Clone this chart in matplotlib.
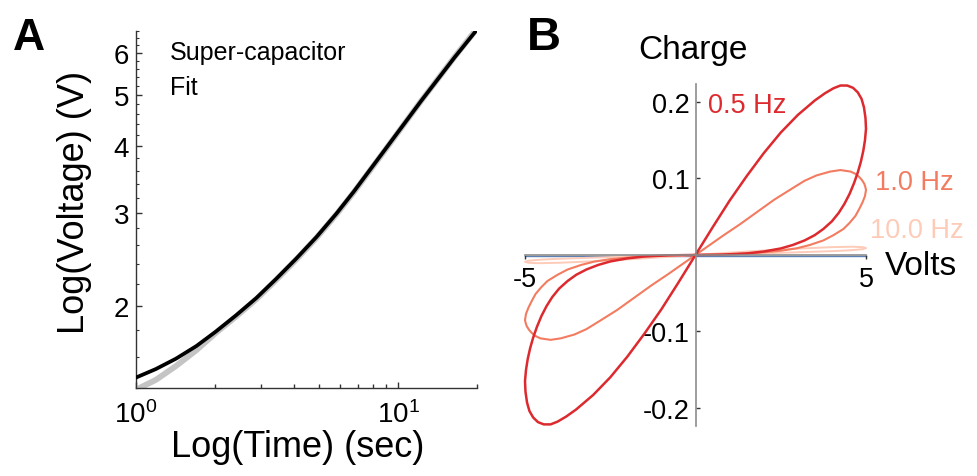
import numpy as np
import matplotlib
matplotlib.use("Agg")
import matplotlib.pyplot as plt
from matplotlib.ticker import FixedLocator, NullFormatter, FormatStrFormatter

plt.rcParams['font.family'] = ['Liberation Sans', 'DejaVu Sans']
plt.rcParams['mathtext.fontset'] = 'custom'
plt.rcParams['mathtext.rm'] = 'Liberation Sans'
plt.rcParams['mathtext.it'] = 'Liberation Sans:italic'
plt.rcParams['axes.unicode_minus'] = False

# ---- panel A: voltage vs time (log-log)
fit_t = [1.0, 1.19, 1.42, 1.70, 2.02, 2.41, 2.88, 3.43, 4.10, 4.89, 5.83, 6.79, 9.11, 12.2, 16.4, 19.8]
fit_v = [1.465, 1.52, 1.59, 1.68, 1.79, 1.92, 2.07, 2.25, 2.46, 2.70, 2.99, 3.29, 4.00, 4.86, 5.88, 6.60]
cap_t = [1.0, 1.19, 1.42, 1.70, 2.02, 2.41, 2.88, 3.43, 4.10, 4.89, 5.83, 6.79, 9.11, 12.2, 16.4, 19.8, 20.5]
cap_v = [1.39, 1.45, 1.54, 1.65, 1.78, 1.91, 2.06, 2.24, 2.45, 2.69, 2.98, 3.28, 3.99, 4.86, 5.89, 6.63, 6.77]
volt_ticks = [2, 3, 4, 5, 6]
volt_minor = np.arange(1.4, 6.61, 0.2)
time_minor = [2, 3, 4, 5, 6, 7, 8, 9, 20]

# ---- panel B: charge vs volts loops (upper-right lobe, then lower-left lobe)
v_05_up = [0, 0.5, 1.0, 1.5, 2.0, 2.5, 3.0, 3.5, 3.8, 4.05, 4.25, 4.45, 4.62, 4.76, 4.87, 4.94, 4.985, 5.0,
           4.97, 4.92, 4.85, 4.76, 4.65, 4.52, 4.37, 4.2, 4.0, 3.75, 3.5, 3.2, 2.85, 2.5, 2.0, 1.5, 0.8, 0]
q_05_up = [0, 0.036, 0.071, 0.103, 0.133, 0.160, 0.183, 0.202, 0.2115, 0.218, 0.2215, 0.2215, 0.2185, 0.2125,
           0.204, 0.193, 0.179, 0.165, 0.150, 0.136, 0.122, 0.108, 0.094, 0.080, 0.067, 0.055, 0.044, 0.034,
           0.026, 0.019, 0.013, 0.0085, 0.0045, 0.002, 0.0005, 0]
v_05_lo = [0, -0.5, -1.0, -1.5, -2.0, -2.5, -3.0, -3.5, -3.8, -4.05, -4.25, -4.45, -4.62, -4.76, -4.87, -4.94,
           -4.985, -5.0, -4.97, -4.92, -4.85, -4.76, -4.65, -4.52, -4.37, -4.2, -4.0, -3.75, -3.5, -3.2, -2.85,
           -2.5, -2.0, -1.5, -0.8, 0]
q_05_lo = [0, -0.036, -0.071, -0.103, -0.133, -0.160, -0.183, -0.202, -0.2115, -0.218, -0.2215, -0.2215,
           -0.2185, -0.2125, -0.204, -0.193, -0.179, -0.165, -0.150, -0.136, -0.122, -0.108, -0.094, -0.080,
           -0.067, -0.055, -0.044, -0.034, -0.026, -0.019, -0.013, -0.0085, -0.0045, -0.002, -0.0005, 0]

v_10_up = [0, 0.8, 1.3, 1.8, 2.3, 2.8, 3.2, 3.55, 3.95, 4.25, 4.55, 4.7, 4.8, 4.88, 4.95, 4.98, 5.0,
           4.97, 4.9, 4.8, 4.69, 4.52, 4.34, 4.05, 3.75, 3.35, 2.97, 2.5, 2.0, 1.4, 0.7, 0]
q_10_up = [0, 0.025, 0.040, 0.056, 0.072, 0.086, 0.097, 0.104, 0.109, 0.111, 0.109, 0.1058, 0.102, 0.098,
           0.093, 0.089, 0.085, 0.077, 0.069, 0.060, 0.051, 0.042, 0.034, 0.026, 0.019, 0.013, 0.0087,
           0.0055, 0.0035, 0.0015, 0.0004, 0]
v_10_lo = [0, -0.8, -1.3, -1.8, -2.3, -2.8, -3.2, -3.55, -3.95, -4.25, -4.55, -4.7, -4.8, -4.88, -4.95, -4.98,
           -5.0, -4.97, -4.9, -4.8, -4.69, -4.52, -4.34, -4.05, -3.75, -3.35, -2.97, -2.5, -2.0, -1.4, -0.7, 0]
q_10_lo = [0, -0.025, -0.040, -0.056, -0.072, -0.086, -0.097, -0.104, -0.109, -0.111, -0.109, -0.1058, -0.102,
           -0.098, -0.093, -0.089, -0.085, -0.077, -0.069, -0.060, -0.051, -0.042, -0.034, -0.026, -0.019,
           -0.013, -0.0087, -0.0055, -0.0035, -0.0015, -0.0004, 0]

v_100_up = [0, 1, 2, 3, 4, 4.6, 4.9, 5.0, 4.9, 4.5, 4.0, 3.0, 2.0, 1.0, 0]
q_100_up = [0, 0.003, 0.0058, 0.0083, 0.0102, 0.0108, 0.0102, 0.009, 0.0075, 0.006, 0.005, 0.0035, 0.0022, 0.001, 0]
v_100_lo = [0, -1, -2, -3, -4, -4.6, -4.9, -5.0, -4.9, -4.5, -4.0, -3.0, -2.0, -1.0, 0]
q_100_lo = [0, -0.003, -0.0058, -0.0083, -0.0102, -0.0108, -0.0102, -0.009, -0.0075, -0.006, -0.005, -0.0035,
            -0.0022, -0.001, 0]

v_flat = [-5, 5]
q_flat = [-0.0016, -0.0016]

freq_labels = ['0.5 Hz', '1.0 Hz', '10.0 Hz']
freq_colors = ['#dc2a2f', '#f27b60', '#fdcbb8']

W, H = 977, 477
fig = plt.figure(figsize=(W / 100, H / 100), dpi=100)

def fx(px):
    return px / W

def fy(py):
    return 1 - py / H

# ---------------- panel A
axA = fig.add_axes([fx(136), fy(389), (477 - 136) / W, (389 - 32) / H])
axA.plot(cap_t, cap_v, color='#c4c4c4', lw=4.2, solid_capstyle='butt', zorder=2)
axA.plot(fit_t, fit_v, color='black', lw=2.7, zorder=3)
axA.set_xscale('log')
axA.set_yscale('log')
axA.set_xlim(1, 20)
axA.set_ylim(1.4, 6.6)
axA.yaxis.set_major_locator(FixedLocator(volt_ticks))
axA.yaxis.set_major_formatter(FormatStrFormatter('%d'))
axA.yaxis.set_minor_locator(FixedLocator(volt_minor))
axA.yaxis.set_minor_formatter(NullFormatter())
axA.xaxis.set_minor_locator(FixedLocator(time_minor))
axA.xaxis.set_minor_formatter(NullFormatter())
for s in ['top', 'right']:
    axA.spines[s].set_visible(False)
for s in ['left', 'bottom']:
    axA.spines[s].set_color('#333333')
    axA.spines[s].set_linewidth(1.0)
axA.tick_params(which='both', direction='in', color='#333333', labelsize=20)
axA.tick_params(which='major', length=4, width=1)
axA.tick_params(axis='y', which='minor', length=2.2, width=0.8)
axA.tick_params(axis='x', which='minor', length=3, width=1)
axA.tick_params(axis='x', pad=9)
axA.tick_params(axis='y', pad=5)

fig.text(fx(170), fy(60), 'Super-capacitor', fontsize=18, va='baseline')
fig.text(fx(170), fy(95), 'Fit', fontsize=18, va='baseline')
fig.text(fx(298), fy(457), 'Log(Time) (sec)', fontsize=26, ha='center', va='baseline')
fig.text(fx(75), fy(202), 'Log(Voltage) (V)', fontsize=26, rotation=90,
         ha='center', va='center', rotation_mode='anchor')
fig.text(fx(13), fy(50), 'A', fontsize=32, weight='bold', va='baseline')

# ---------------- panel B
axB = fig.add_axes([fx(525), fy(427.3), (866 - 525) / W, (427.3 - 85) / H])
axB.plot(v_flat, q_flat, color='#5e81b5', lw=1.0, zorder=1, clip_on=False)
loops = [(v_100_up + v_100_lo, q_100_up + q_100_lo, 1.4),
         (v_10_up + v_10_lo, q_10_up + q_10_lo, 1.5),
         (v_05_up + v_05_lo, q_05_up + q_05_lo, 1.8)]
for (v, q, lw), col in zip(loops, freq_colors[::-1]):
    axB.plot(v, q, color=col, lw=lw, zorder=2, clip_on=False, solid_joinstyle='round')
axB.set_xlim(-5, 5)
axB.set_ylim(-0.224, 0.2235)
for s in ['top', 'right']:
    axB.spines[s].set_visible(False)
for s in ['left', 'bottom']:
    axB.spines[s].set_position('zero')
    axB.spines[s].set_color('#8c8c8c')
    axB.spines[s].set_linewidth(1.2)
    axB.spines[s].set_zorder(2.5)
axB.xaxis.set_major_locator(FixedLocator([-5, 5]))
axB.yaxis.set_major_locator(FixedLocator([-0.2, -0.1, 0.1, 0.2]))
axB.yaxis.set_major_formatter(FormatStrFormatter('%.1f'))
axB.xaxis.set_major_formatter(FormatStrFormatter('%d'))
axB.tick_params(axis='y', direction='in', length=3, width=1, color='#333333', pad=4, labelsize=19.5)
axB.tick_params(axis='x', direction='out', length=3, width=1, color='#333333', pad=5, labelsize=19.5)

label_base = [113, 190, 238]
label_left = [708, 875, 870]
for lab, col, x, y in zip(freq_labels, freq_colors, label_left, label_base):
    fig.text(fx(x), fy(y), lab, color=col, fontsize=19.5, va='baseline')

fig.text(fx(693), fy(59), 'Charge', fontsize=24, ha='center', va='baseline')
fig.text(fx(885), fy(275), 'Volts', fontsize=24, va='baseline')
fig.text(fx(527), fy(50), 'B', fontsize=34, weight='bold', va='baseline')

fig.savefig('out.png', dpi=100)
